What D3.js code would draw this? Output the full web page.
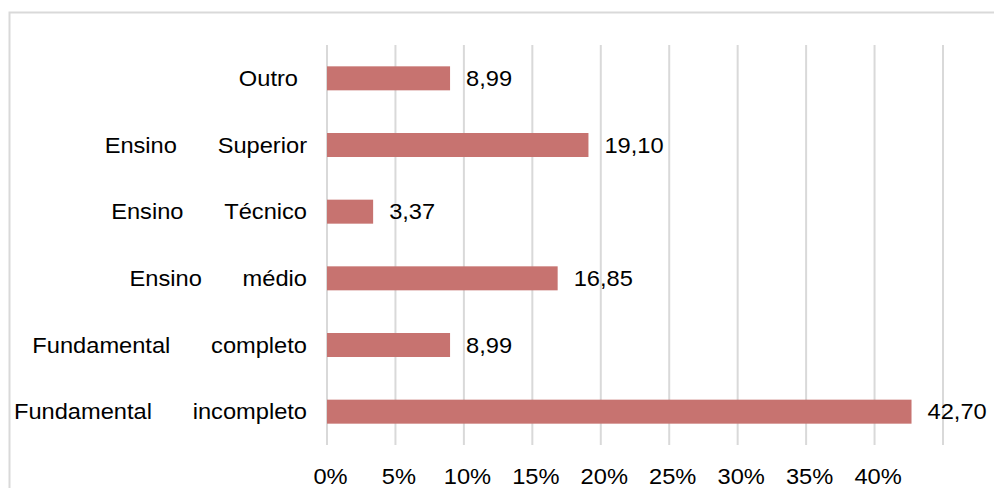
<!DOCTYPE html>
<html>
<head>
<meta charset="utf-8">
<script src="https://cdn.jsdelivr.net/npm/d3@7"></script>
<style>
  html, body { margin: 0; padding: 0; background: #fff; }
  svg { display: block; }
  text { font-family: "Liberation Sans", Arial, sans-serif; fill: #000; }
</style>
</head>
<body>
<svg id="chart" width="994" height="488"></svg>
<script>
// Escolaridade (%), de baixo para cima
const categories = [
  "Fundamental incompleto",
  "Fundamental completo",
  "Ensino médio",
  "Ensino Técnico",
  "Ensino Superior",
  "Outro"
];
const values = [42.70, 8.99, 16.85, 3.37, 19.10, 8.99];
const tickValues = [0, 5, 10, 15, 20, 25, 30, 35, 40];
const gridValues = [0, 5, 10, 15, 20, 25, 30, 35, 40, 45];

const W = 994, H = 488;
const plot = { left: 327, right: 943, top: 45, bottom: 445 };
const fontSize = 21.5;
const stretch = 1.1;       // slightly wide lettering
const wordGap = 37;        // spacing between words of a category label
const barColor = "#c77370";
const gridColor = "#d9d9d9";

const svg = d3.select("#chart");

// outer frame
svg.append("rect")
  .attr("x", 9.5).attr("y", 12.5)
  .attr("width", W).attr("height", H)
  .attr("fill", "none")
  .attr("stroke", gridColor)
  .attr("stroke-width", 2);

const x = d3.scaleLinear().domain([0, 45]).range([plot.left, plot.right]);
const y = d3.scaleBand()
  .domain(categories.slice().reverse())
  .range([plot.top, plot.bottom])
  .paddingInner(0.64)
  .paddingOuter(0.32);

// vertical gridlines
svg.append("g")
  .selectAll("line")
  .data(gridValues)
  .join("line")
  .attr("x1", d => x(d)).attr("x2", d => x(d))
  .attr("y1", plot.top).attr("y2", plot.bottom)
  .attr("stroke", gridColor)
  .attr("stroke-width", 2);

// bars
const rows = categories.map((c, i) => ({ cat: c, val: values[i] }));
svg.append("g")
  .selectAll("rect")
  .data(rows)
  .join("rect")
  .attr("x", x(0))
  .attr("y", d => y(d.cat))
  .attr("width", d => x(d.val) - x(0))
  .attr("height", y.bandwidth())
  .attr("fill", barColor);

// value labels
const fmt = v => d3.format(".2f")(v).replace(".", ",");
svg.append("g")
  .selectAll("text")
  .data(rows)
  .join("text")
  .attr("transform", d => `translate(${x(d.val) + 16},${y(d.cat) + y.bandwidth() / 2}) scale(${stretch},1)`)
  .attr("dy", "0.35em")
  .attr("font-size", fontSize)
  .text(d => fmt(d.val));

// category labels (words spread apart, right-aligned)
const catLabels = svg.append("g")
  .selectAll("text")
  .data(rows)
  .join("text")
  .attr("transform", d => {
    const single = d.cat.split(" ").length === 1;
    return `translate(${single ? 298 : 307},${y(d.cat) + y.bandwidth() / 2}) scale(${stretch},1)`;
  })
  .attr("dy", "0.35em")
  .attr("text-anchor", "end")
  .attr("font-size", fontSize);

catLabels.each(function(d) {
  const words = d.cat.split(" ");
  const t = d3.select(this);
  words.forEach((w, i) => {
    t.append("tspan").attr("dx", i === 0 ? 0 : wordGap).text(w);
  });
});

// x axis
const xAxis = d3.axisBottom(x)
  .tickValues(tickValues)
  .tickFormat(d => d + "%")
  .tickSize(0)
  .tickPadding(0);

const axisG = svg.append("g")
  .attr("transform", `translate(0,${plot.bottom})`)
  .call(xAxis);
axisG.select(".domain").remove();
axisG.selectAll("text")
  .attr("y", 0)
  .attr("dy", 0)
  .attr("font-size", fontSize)
  .attr("font-family", null)
  .attr("fill", "#000")
  .attr("transform", `translate(3,39) scale(${stretch},1)`);
</script>
</body>
</html>
